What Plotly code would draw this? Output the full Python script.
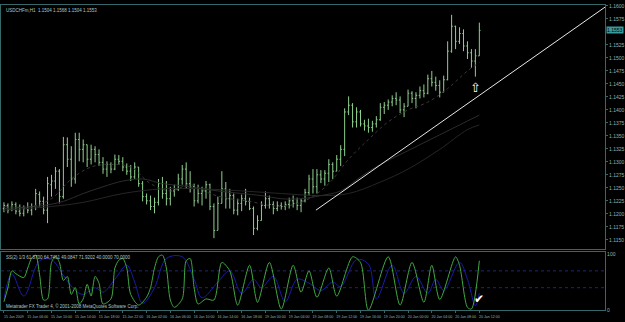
import plotly.graph_objects as go

# ---------------- data ----------------
opens = [1.1210,1.1216,1.1208,1.1218,1.1205,1.1201,1.1210,1.1207,1.1214,1.1237,
         1.1224,1.1207,1.1256,1.1263,1.1282,1.1233,1.1333,1.1305,1.1267,1.1343,
         1.1324,1.1333,1.1305,1.1324,1.1314,1.1299,1.1286,1.1295,1.1286,1.1305,
         1.1301,1.1290,1.1282,1.1271,1.1290,1.1258,1.1233,1.1225,1.1214,1.1222,
         1.1258,1.1239,1.1229,1.1244,1.1248,1.1267,1.1286,1.1258,1.1252,1.1225,
         1.1239,1.1244,1.1256,1.1214,1.1168,1.1220,1.1248,1.1229,1.1235,1.1207,
         1.1220,1.1229,1.1224,1.1210,1.1172,1.1187,1.1216,1.1229,1.1218,1.1210,
         1.1216,1.1214,1.1218,1.1225,1.1220,1.1216,1.1225,1.1241,1.1267,1.1252,
         1.1275,1.1267,1.1278,1.1295,1.1282,1.1305,1.1324,1.1396,1.1409,1.1377,
         1.1396,1.1373,1.1369,1.1366,1.1373,1.1381,1.1405,1.1409,1.1415,1.1422,
         1.1419,1.1400,1.1407,1.1432,1.1422,1.1428,1.1437,1.1432,1.1460,1.1453,
         1.1447,1.1434,1.1458,1.1513,1.1561,1.1532,1.1547,1.1523,1.1510,1.1494,
         1.1504]
highs = [1.1222,1.1220,1.1224,1.1222,1.1218,1.1216,1.1222,1.1220,1.1248,1.1243,
         1.1233,1.1271,1.1275,1.1290,1.1286,1.1348,1.1347,1.1330,1.1356,1.1356,
         1.1343,1.1333,1.1333,1.1330,1.1324,1.1309,1.1301,1.1299,1.1314,1.1313,
         1.1309,1.1297,1.1294,1.1299,1.1290,1.1263,1.1239,1.1235,1.1231,1.1267,
         1.1271,1.1263,1.1252,1.1256,1.1277,1.1294,1.1299,1.1282,1.1258,1.1256,
         1.1252,1.1263,1.1258,1.1220,1.1233,1.1282,1.1261,1.1248,1.1239,1.1229,
         1.1237,1.1248,1.1231,1.1214,1.1197,1.1224,1.1243,1.1235,1.1224,1.1224,
         1.1222,1.1224,1.1231,1.1235,1.1231,1.1229,1.1248,1.1275,1.1286,1.1286,
         1.1284,1.1284,1.1305,1.1299,1.1313,1.1332,1.1403,1.1426,1.1413,1.1405,
         1.1400,1.1381,1.1383,1.1379,1.1388,1.1413,1.1415,1.1420,1.1428,1.1434,
         1.1426,1.1413,1.1439,1.1436,1.1434,1.1445,1.1449,1.1468,1.1475,1.1464,
         1.1457,1.1466,1.1532,1.1583,1.1562,1.1559,1.1555,1.1532,1.1517,1.1517,
         1.1568]
lows = [1.1203,1.1201,1.1205,1.1199,1.1195,1.1195,1.1201,1.1197,1.1207,1.1214,
        1.1199,1.1182,1.1233,1.1248,1.1220,1.1229,1.1290,1.1252,1.1258,1.1301,
        1.1299,1.1290,1.1295,1.1299,1.1292,1.1277,1.1271,1.1278,1.1284,1.1294,
        1.1282,1.1275,1.1263,1.1267,1.1252,1.1224,1.1218,1.1207,1.1201,1.1216,
        1.1229,1.1216,1.1216,1.1233,1.1244,1.1256,1.1248,1.1241,1.1214,1.1220,
        1.1216,1.1229,1.1207,1.1153,1.1168,1.1220,1.1210,1.1210,1.1199,1.1197,
        1.1205,1.1216,1.1207,1.1159,1.1168,1.1187,1.1210,1.1210,1.1199,1.1205,
        1.1208,1.1207,1.1210,1.1212,1.1207,1.1203,1.1222,1.1235,1.1239,1.1239,
        1.1259,1.1254,1.1261,1.1267,1.1282,1.1292,1.1311,1.1390,1.1366,1.1366,
        1.1368,1.1360,1.1356,1.1358,1.1366,1.1379,1.1392,1.1400,1.1407,1.1409,
        1.1394,1.1386,1.1407,1.1413,1.1403,1.1422,1.1424,1.1430,1.1445,1.1437,
        1.1424,1.1434,1.1457,1.1510,1.1517,1.1527,1.1513,1.1498,1.1481,1.1464,
        1.1504]
closes = [1.1216,1.1207,1.1218,1.1205,1.1201,1.1210,1.1207,1.1214,1.1239,1.1224,
          1.1207,1.1258,1.1263,1.1282,1.1233,1.1333,1.1305,1.1267,1.1343,1.1324,
          1.1333,1.1305,1.1324,1.1314,1.1299,1.1286,1.1295,1.1286,1.1305,1.1301,
          1.1290,1.1282,1.1271,1.1290,1.1258,1.1233,1.1225,1.1214,1.1222,1.1258,
          1.1239,1.1229,1.1244,1.1248,1.1267,1.1286,1.1258,1.1252,1.1225,1.1239,
          1.1244,1.1256,1.1214,1.1168,1.1220,1.1248,1.1229,1.1235,1.1207,1.1220,
          1.1229,1.1224,1.1210,1.1172,1.1187,1.1216,1.1229,1.1218,1.1210,1.1216,
          1.1214,1.1218,1.1225,1.1220,1.1216,1.1225,1.1241,1.1267,1.1252,1.1275,
          1.1267,1.1278,1.1295,1.1282,1.1305,1.1324,1.1396,1.1409,1.1377,1.1396,
          1.1373,1.1369,1.1366,1.1373,1.1381,1.1405,1.1409,1.1415,1.1422,1.1419,
          1.1400,1.1407,1.1432,1.1422,1.1428,1.1437,1.1432,1.1460,1.1453,1.1447,
          1.1434,1.1458,1.1513,1.1561,1.1532,1.1547,1.1523,1.1510,1.1494,1.1504,
          1.1553]
bars = list(range(len(closes)))

# moving averages (bar index, price)
ma_fast_bars = [0,7,12,17,22,27,32,37,42,47,52,57,62,67,72,77,82,87,92,97,102,107,112,117,120]
ma_fast = [1.1214,1.1214,1.1229,1.1267,1.1290,1.1295,1.1290,1.1258,1.1244,1.1256,1.1239,
           1.1229,1.1224,1.1216,1.1216,1.1229,1.1258,1.1305,1.1343,1.1377,1.1400,1.1415,
           1.1441,1.1475,1.1491]
ma_mid_bars = [0,10,15,20,25,30,35,40,45,50,55,60,65,70,75,80,85,90,95,100,105,110,115,120]
ma_mid = [1.1210,1.1216,1.1224,1.1239,1.1252,1.1263,1.1267,1.1258,1.1254,1.1248,1.1243,
          1.1239,1.1235,1.1229,1.1229,1.1235,1.1244,1.1271,1.1295,1.1314,1.1333,1.1352,
          1.1371,1.1390]
ma_slow_bars = [0,12,20,30,40,50,60,70,80,87,95,102,110,117,120]
ma_slow = [1.1207,1.1214,1.1222,1.1239,1.1248,1.1248,1.1244,1.1239,1.1235,1.1239,1.1261,
           1.1286,1.1324,1.1362,1.1371]

# trend line anchors (bar index, price)
trend_bars = [78.75, 151.75]
trend_prices = [1.1207, 1.1598]

# stochastic (bar index, value)
k_bars = [0,1,2,3,5,6,7,8,9,10,11,12,13,14,15,16,17,18,19,20,21,22,23,24,25,27,28,29,30,31,
          32,34,36,37,38,39,40,41,42,43,45,46,47,48,49,51,53,55,57,59,62,64,67,70,73,75,77,
          79,82,84,88,90,92,97,100,103,106,108,110,114,115,117,118,120]
k_vals = [15,40,70,65,58,75,93,98,63,18,20,85,96,85,53,60,28,40,11,20,46,25,60,48,11,20,75,
          89,92,75,28,9,23,40,75,95,98,75,18,5,20,88,92,40,11,20,18,85,70,9,80,14,85,2,80,32,
          70,23,75,25,95,85,0,95,9,85,14,80,19,95,80,5,2,88]
d_bars = [0,2,5,9,12,15,18,20,23,25,28,31,33,35,38,41,45,48,50,54,57,60,63,65,68,71,74,77,
          80,83,85,89,92,94,98,101,104,107,109,111,115,117,119,120]
d_vals = [20,65,25,88,90,62,35,28,40,32,55,80,50,12,40,92,95,55,22,50,70,30,55,40,60,15,55,
          48,35,50,42,90,82,20,80,30,60,30,55,35,85,55,8,30]
stoch_levels = [40, 70]

tick_bars = list(range(0, 121, 6))
tick_text = ["15 Jan 2009","15 Jan 06:00","15 Jan 10:00","15 Jan 14:00","15 Jan 18:00",
             "15 Jan 22:00","16 Jan 02:00","16 Jan 06:00","16 Jan 10:00","16 Jan 14:00",
             "16 Jan 18:00","19 Jan 00:00","19 Jan 04:00","19 Jan 08:00","19 Jan 12:00",
             "19 Jan 16:00","19 Jan 20:00","20 Jan 00:00","20 Jan 04:00","20 Jan 08:00",
             "20 Jan 12:00"]
price_ticks = [1.1150,1.1175,1.1200,1.1225,1.1250,1.1275,1.1300,1.1325,1.1350,1.1375,
               1.1400,1.1425,1.1450,1.1475,1.1500,1.1525,1.1575,1.1600]

arrow_bar, arrow_price = 119, 1.1443
check_bar, check_val = 120, 19

# ---------------- styles ----------------
AX = "#356868"
TXT = "#8fb3b3"
FONT = "Liberation Sans"
W, H = 625, 322
right = 610 / W
main_dom = [(H - 251) / H, (H - 3) / H]
sub_dom = [(H - 313) / H, (H - 254) / H]
xr = [-0.75, 151.75]

fig = go.Figure()
fig.add_trace(go.Scatter(x=ma_slow_bars, y=ma_slow, mode="lines",
                         line=dict(color="#262626", width=1, shape="spline"),
                         xaxis="x", yaxis="y"))
fig.add_trace(go.Scatter(x=ma_mid_bars, y=ma_mid, mode="lines",
                         line=dict(color="#2c2c2c", width=1, shape="spline"),
                         xaxis="x", yaxis="y"))
fig.add_trace(go.Scatter(x=ma_fast_bars, y=ma_fast, mode="lines",
                         line=dict(color="#383838", width=1, dash="dot", shape="spline"),
                         xaxis="x", yaxis="y"))
fig.add_trace(go.Ohlc(x=bars, open=opens, high=highs, low=lows, close=closes,
                      increasing=dict(line=dict(color="#8fcf8f", width=1)),
                      decreasing=dict(line=dict(color="#8fcf8f", width=1)),
                      tickwidth=0.3, xaxis="x", yaxis="y"))
fig.add_trace(go.Scatter(x=trend_bars, y=trend_prices, mode="lines",
                         line=dict(color="#e8e8e8", width=1), xaxis="x", yaxis="y"))

# stochastic window
for lv in stoch_levels:
    fig.add_trace(go.Scatter(x=[xr[0], xr[1]], y=[lv, lv], mode="lines",
                             line=dict(color="#26266a", width=1, dash="dot"),
                             xaxis="x2", yaxis="y2"))
fig.add_trace(go.Scatter(x=d_bars, y=d_vals, mode="lines",
                         line=dict(color="#1c1ca8", width=1, shape="spline", smoothing=1),
                         xaxis="x2", yaxis="y2"))
fig.add_trace(go.Scatter(x=k_bars, y=k_vals, mode="lines",
                         line=dict(color="#42a842", width=1, shape="spline", smoothing=0.8),
                         xaxis="x2", yaxis="y2"))

fig.update_layout(
    width=W, height=H, margin=dict(l=0, r=0, t=0, b=0),
    paper_bgcolor="black", plot_bgcolor="black", showlegend=False,
    font=dict(family=FONT, color=TXT, size=5),
    xaxis=dict(domain=[0.0016, right], range=xr, showgrid=False, zeroline=False,
               showticklabels=False, showline=True, mirror=True, linecolor=AX,
               rangeslider=dict(visible=False), anchor="y"),
    yaxis=dict(domain=main_dom, range=[1.1132, 1.1602], side="right", showgrid=False,
               zeroline=False, tickvals=price_ticks, tickformat=".4f", ticks="outside",
               ticklen=2, tickcolor=AX, showline=True, mirror=True, linecolor=AX,
               tickfont=dict(size=5, color=TXT), anchor="x"),
    xaxis2=dict(domain=[0.0016, right], range=xr, showgrid=False, zeroline=False,
                tickvals=tick_bars, ticktext=tick_text, tickangle=0, ticks="outside",
                ticklen=2, tickcolor=AX, showline=True, mirror=True, linecolor=AX,
                ticklabelshift=10, ticklabelstandoff=1,
                tickfont=dict(size=3.6, color=TXT), anchor="y2"),
    yaxis2=dict(domain=sub_dom, range=[0, 103.5], side="right", showgrid=False,
                zeroline=False, tickvals=[0, 100], ticktext=["0", "100"], ticks="",
                showline=True, mirror=True, linecolor=AX,
                tickfont=dict(size=5, color=TXT), anchor="x2"),
)

fig.add_annotation(xref="paper", yref="paper", x=0.006, y=(H - 4) / H, xanchor="left",
                   yanchor="top", showarrow=False,
                   text="USDCHFm,H1  1.1504 1.1568 1.1504 1.1553",
                   font=dict(size=4.5, color="#b0c8c8", family=FONT))
fig.add_annotation(xref="paper", yref="y", x=right + 0.002, y=closes[-1], xanchor="left",
                   showarrow=False, text="1.1553", bgcolor="#3d9a9a",
                   font=dict(size=5, color="black", family=FONT), borderpad=0)
fig.add_annotation(xref="paper", yref="paper", x=0.006, y=(H - 255) / H, xanchor="left",
                   yanchor="top", showarrow=False,
                   text="SS(2) 1/3 61.8700 64.7461 49.0847 71.9202 40.0000 70.0000",
                   font=dict(size=4.5, color="#b0c8c8", family=FONT))
fig.add_annotation(xref="paper", yref="paper", x=0.006, y=(H - 309) / H, xanchor="left",
                   yanchor="middle", showarrow=False,
                   text="Metatrader FX Trader 4, © 2001-2008 MetaQuotes Software Corp.",
                   font=dict(size=4.5, color="#b0c8c8", family=FONT))
fig.add_annotation(x=arrow_bar, y=arrow_price, xref="x", yref="y", showarrow=False,
                   text="⇧", font=dict(size=13, color="white", family="DejaVu Sans"))
fig.add_annotation(x=check_bar, y=check_val, xref="x2", yref="y2", showarrow=False,
                   text="✔", font=dict(size=12, color="white", family="DejaVu Sans"))

fig.write_html("out.html")
